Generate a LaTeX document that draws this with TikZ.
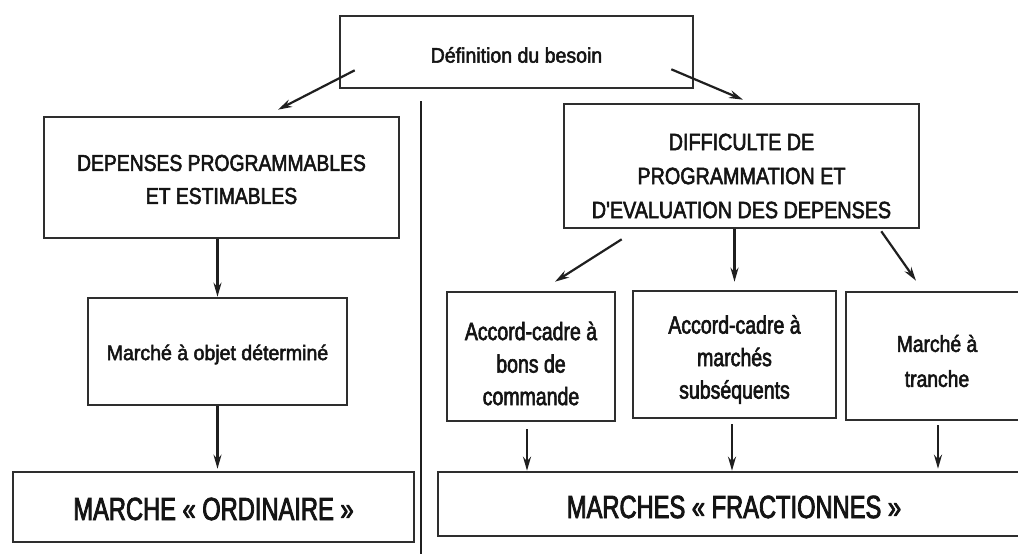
\documentclass[tikz,border=0pt]{standalone}
\usepackage{fontspec}
\setmainfont{Liberation Sans}
\newfontfamily\fA{Liberation Sans}[FakeStretch=0.93,FakeBold=2.4]
\newfontfamily\fB{Liberation Sans}[FakeStretch=0.84,FakeBold=2.4]
\newfontfamily\fC{Liberation Sans}[FakeStretch=0.78,FakeBold=2.4]
\newfontfamily\fD{Liberation Sans}[FakeStretch=0.74,FakeBold=2.6]
\usetikzlibrary{calc,arrows.meta}
\begin{document}
\begin{tikzpicture}[x=1pt,y=-1pt,
  box/.style={draw=black!82, line width=2.6pt, inner sep=0pt, align=center, text=black!92},
  lab/.style={align=center, text=black!92, inner sep=0pt},
  deftxt/.style={font=\fA\fontsize{21}{33}\selectfont},
  captxt/.style={font=\fB\fontsize{23}{33}\selectfont},
  acctxt/.style={font=\fC\fontsize{25}{32.5}\selectfont},
  trtxt/.style={font=\fB\fontsize{23}{35}\selectfont},
  bigtxt/.style={font=\fD\fontsize{32}{38}\selectfont},
  arr/.style={-{Stealth[length=14pt,width=8pt]}, line width=2.2pt, draw=black!88}]
\useasboundingbox (0,0) rectangle (1018,554);
\clip (0,0) rectangle (1018,554);
\fill[white] (0,0) rectangle (1018,554);

% boxes
\node[box, minimum width=353, minimum height=72,
  label={[lab, deftxt, yshift=-3pt]center:{D\'efinition du besoin}}] (def) at (516.5,52) {};
\node[box, minimum width=355, minimum height=121,
  label={[lab, captxt, yshift=-2pt]center:{DEPENSES PROGRAMMABLES\\ET ESTIMABLES}}] (dep) at (221.5,177.5) {};
\node[box, minimum width=355, minimum height=124,
  label={[lab, captxt, font=\fB\fontsize{23.5}{34}\selectfont, yshift=-10pt]center:{DIFFICULTE DE\\PROGRAMMATION ET\\D'EVALUATION DES DEPENSES}}] (diff) at (741.5,166) {};
\node[box, minimum width=259, minimum height=107,
  label={[lab, deftxt, yshift=-3pt]center:{March\'e \`a objet d\'etermin\'e}}] (objet) at (217.5,351.5) {};
\node[box, minimum width=401, minimum height=70,
  label={[lab, bigtxt, yshift=-2pt]center:{MARCHE « ORDINAIRE »}}] (ordi) at (213.5,507) {};
\node[box, minimum width=168, minimum height=129,
  label={[lab, acctxt, yshift=-7pt]center:{Accord-cadre \`a\\bons de\\commande}}] (bons) at (531,356.5) {};
\node[box, minimum width=203, minimum height=127,
  label={[lab, acctxt, yshift=-5pt]center:{Accord-cadre \`a\\march\'es\\subs\'equents}}] (mar) at (734.5,354.5) {};
\node[box, minimum width=182, minimum height=128,
  label={[lab, trtxt, yshift=-5pt]center:{March\'e \`a\\tranche}}] (tranche) at (937,356) {};
\node[box, minimum width=592, minimum height=64,
  label={[lab, bigtxt, yshift=-3pt]center:{MARCHES « FRACTIONNES »}}] (fract) at (734,504) {};

% divider
\draw[line width=2pt, draw=black!88] (421,101) -- (421,554);

% connector end points
\coordinate (bS) at ($(bons.south)+(-4,7)$);
\coordinate (mS) at ($(mar.south)+(-2.5,5)$);
\coordinate (tS) at ($(tranche.south)+(1,4)$);

% connectors
\draw[arr] ($(def.south west)+(16,-19)$) -- ($(dep.north)+(56.5,-6)$);
\draw[arr] ($(def.south east)+(-23,-20)$) -- ($(diff.north)+(1.5,-3)$);
\draw[arr] (dep.south -| objet.north) -- (objet.north);
\draw[arr, shorten >=2pt] (objet.south) -- (objet.south |- ordi.north);
\draw[arr] ($(diff.south west)+(59,10)$) -- ($(bons.north)+(24,-9)$);
\draw[arr, shorten >=8pt] (diff.south -| mar.north) -- (mar.north);
\draw[arr] ($(diff.south east)+(-39,2)$) -- ($(tranche.north)+(-21,-10)$);
\draw[arr] (bS) -- (bS |- fract.north);
\draw[arr] (mS) -- (mS |- fract.north);
\draw[arr, shorten >=2pt] (tS) -- (tS |- fract.north);
\end{tikzpicture}
\end{document}
